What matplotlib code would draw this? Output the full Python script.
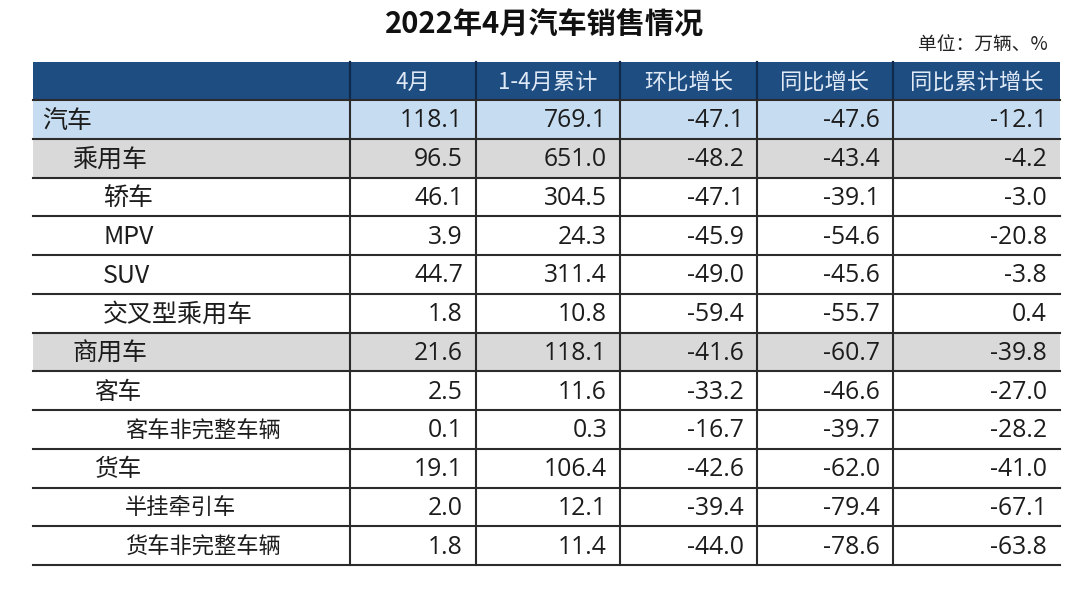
import matplotlib
matplotlib.use("Agg")
import matplotlib.pyplot as plt
from matplotlib.patches import Rectangle

plt.rcParams['font.family'] = ['Noto Sans CJK SC', 'DejaVu Sans']

title = "2022年4月汽车销售情况"
unit = "单位：万辆、%"
headers = ["4月", "1-4月累计", "环比增长", "同比增长", "同比累计增长"]
categories = ["汽车", "乘用车", "轿车", "MPV", "SUV", "交叉型乘用车",
              "商用车", "客车", "客车非完整车辆", "货车", "半挂牵引车", "货车非完整车辆"]
april = [118.1, 96.5, 46.1, 3.9, 44.7, 1.8, 21.6, 2.5, 0.1, 19.1, 2.0, 1.8]
ytd = [769.1, 651.0, 304.5, 24.3, 311.4, 10.8, 118.1, 11.6, 0.3, 106.4, 12.1, 11.4]
mom = [-47.1, -48.2, -47.1, -45.9, -49.0, -59.4, -41.6, -33.2, -16.7, -42.6, -39.4, -44.0]
yoy = [-47.6, -43.4, -39.1, -54.6, -45.6, -55.7, -60.7, -46.6, -39.7, -62.0, -79.4, -78.6]
yoy_cum = [-12.1, -4.2, -3.0, -20.8, -3.8, 0.4, -39.8, -27.0, -28.2, -41.0, -67.1, -63.8]

# layout (pixels) and per-row label styling
W, H = 1080, 590
col_edges = [33, 350, 476, 620, 757, 893, 1060]
indent_px = [9, 39, 70, 70, 70, 70, 39, 61, 92, 61, 92, 92]
label_size = [18, 18, 18, 18, 18, 18, 18, 17, 16, 17, 16, 16]
top = 62
head_h = 38
row_h = 38.75

header_color = "#1e4d82"
blue_row = "#c6dcf1"
gray_row = "#d9d9d9"
line_color = "#2b2b2b"
text_color = "#1c1c1c"

fig = plt.figure(figsize=(W / 100, H / 100), dpi=100)
ax = fig.add_axes([0, 0, 1, 1])
ax.set_xlim(0, W)
ax.set_ylim(H, 0)
ax.axis('off')

ax.text(545, 24, title, ha='center', va='center', fontsize=21,
        fontweight='bold', color="#111111")
ax.text(1048, 45, unit, ha='right', va='center', fontsize=13.5,
        fontweight='medium', color="#222222")

# header
ax.add_patch(Rectangle((col_edges[0], top), col_edges[-1] - col_edges[0], head_h,
                       facecolor=header_color, edgecolor='none'))
for j, h in enumerate(headers):
    cx = (col_edges[j + 1] + col_edges[j + 2]) / 2
    ax.text(cx, top + head_h / 2 + 1, h, ha='center', va='center', fontsize=16,
            fontweight='medium', color="#e0eaf6")
for x in col_edges[1:-1]:
    ax.plot([x, x], [top, top + head_h], color="#0f2a4c", lw=1.6)

cols = [april, ytd, mom, yoy, yoy_cum]
y0 = top + head_h
for i, cat in enumerate(categories):
    yt = y0 + i * row_h
    if i == 0:
        fc = blue_row
    elif cat in ("乘用车", "商用车"):
        fc = gray_row
    else:
        fc = None
    if fc:
        ax.add_patch(Rectangle((col_edges[0], yt), col_edges[-1] - col_edges[0], row_h,
                               facecolor=fc, edgecolor='none'))
    yc = yt + row_h / 2 + 1.5
    ax.text(col_edges[0] + indent_px[i], yc, cat, ha='left', va='center',
            fontsize=label_size[i], color=text_color)
    for j, col in enumerate(cols):
        ax.text(col_edges[j + 2] - 13, yc, f"{col[i]:.1f}", ha='right', va='center',
                fontsize=17.8, color=text_color, family=['Open Sans', 'DejaVu Sans'])
    ax.plot([col_edges[0], col_edges[-1]], [yt + row_h, yt + row_h],
            color=line_color, lw=1.5)

bottom = y0 + len(categories) * row_h
for x in col_edges[1:-1]:
    ax.plot([x, x], [y0, bottom], color=line_color, lw=1.5)
ax.plot([col_edges[0], col_edges[-1]], [y0, y0], color=line_color, lw=1.5)

fig.savefig("out.png", dpi=100, facecolor='white')
